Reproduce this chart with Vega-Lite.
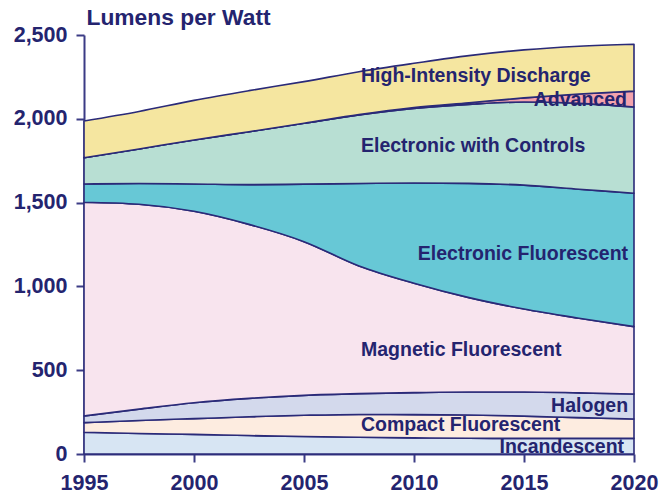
{
  "$schema": "https://vega.github.io/schema/vega-lite/v6.json",
  "width": 550,
  "height": 419,
  "autosize": {"type": "none"},
  "padding": {"left": 84, "top": 35, "right": 26, "bottom": 42},
  "background": "white",
  "config": {"view": {"stroke": null}, "font": "Liberation Sans"},
  "datasets": {
    "lighting": [
      {"year": 1995, "type": "Incandescent", "rank": 1, "lpw": 130},
      {"year": 1997.5, "type": "Incandescent", "rank": 1, "lpw": 122},
      {"year": 2000, "type": "Incandescent", "rank": 1, "lpw": 117},
      {"year": 2002.5, "type": "Incandescent", "rank": 1, "lpw": 110},
      {"year": 2005, "type": "Incandescent", "rank": 1, "lpw": 104},
      {"year": 2007.5, "type": "Incandescent", "rank": 1, "lpw": 100},
      {"year": 2010, "type": "Incandescent", "rank": 1, "lpw": 96},
      {"year": 2012.5, "type": "Incandescent", "rank": 1, "lpw": 94},
      {"year": 2015, "type": "Incandescent", "rank": 1, "lpw": 93},
      {"year": 2017.5, "type": "Incandescent", "rank": 1, "lpw": 93},
      {"year": 2020, "type": "Incandescent", "rank": 1, "lpw": 93},
      {"year": 1995, "type": "Compact Fluorescent", "rank": 2, "lpw": 57},
      {"year": 1997.5, "type": "Compact Fluorescent", "rank": 2, "lpw": 78},
      {"year": 2000, "type": "Compact Fluorescent", "rank": 2, "lpw": 94},
      {"year": 2002.5, "type": "Compact Fluorescent", "rank": 2, "lpw": 112},
      {"year": 2005, "type": "Compact Fluorescent", "rank": 2, "lpw": 127},
      {"year": 2007.5, "type": "Compact Fluorescent", "rank": 2, "lpw": 136},
      {"year": 2010, "type": "Compact Fluorescent", "rank": 2, "lpw": 139},
      {"year": 2012.5, "type": "Compact Fluorescent", "rank": 2, "lpw": 139},
      {"year": 2015, "type": "Compact Fluorescent", "rank": 2, "lpw": 133},
      {"year": 2017.5, "type": "Compact Fluorescent", "rank": 2, "lpw": 124},
      {"year": 2020, "type": "Compact Fluorescent", "rank": 2, "lpw": 116},
      {"year": 1995, "type": "Halogen", "rank": 3, "lpw": 40},
      {"year": 1997.5, "type": "Halogen", "rank": 3, "lpw": 68},
      {"year": 2000, "type": "Halogen", "rank": 3, "lpw": 95},
      {"year": 2002.5, "type": "Halogen", "rank": 3, "lpw": 110},
      {"year": 2005, "type": "Halogen", "rank": 3, "lpw": 119},
      {"year": 2007.5, "type": "Halogen", "rank": 3, "lpw": 124},
      {"year": 2010, "type": "Halogen", "rank": 3, "lpw": 131},
      {"year": 2012.5, "type": "Halogen", "rank": 3, "lpw": 137},
      {"year": 2015, "type": "Halogen", "rank": 3, "lpw": 144},
      {"year": 2017.5, "type": "Halogen", "rank": 3, "lpw": 148},
      {"year": 2020, "type": "Halogen", "rank": 3, "lpw": 149},
      {"year": 1995, "type": "Magnetic Fluorescent", "rank": 4, "lpw": 1275},
      {"year": 1997.5, "type": "Magnetic Fluorescent", "rank": 4, "lpw": 1222},
      {"year": 2000, "type": "Magnetic Fluorescent", "rank": 4, "lpw": 1142},
      {"year": 2002.5, "type": "Magnetic Fluorescent", "rank": 4, "lpw": 1038},
      {"year": 2005, "type": "Magnetic Fluorescent", "rank": 4, "lpw": 917},
      {"year": 2007.5, "type": "Magnetic Fluorescent", "rank": 4, "lpw": 762},
      {"year": 2010, "type": "Magnetic Fluorescent", "rank": 4, "lpw": 653},
      {"year": 2012.5, "type": "Magnetic Fluorescent", "rank": 4, "lpw": 563},
      {"year": 2015, "type": "Magnetic Fluorescent", "rank": 4, "lpw": 495},
      {"year": 2017.5, "type": "Magnetic Fluorescent", "rank": 4, "lpw": 445},
      {"year": 2020, "type": "Magnetic Fluorescent", "rank": 4, "lpw": 402},
      {"year": 1995, "type": "Electronic Fluorescent", "rank": 5, "lpw": 109},
      {"year": 1997.5, "type": "Electronic Fluorescent", "rank": 5, "lpw": 124},
      {"year": 2000, "type": "Electronic Fluorescent", "rank": 5, "lpw": 163},
      {"year": 2002.5, "type": "Electronic Fluorescent", "rank": 5, "lpw": 237},
      {"year": 2005, "type": "Electronic Fluorescent", "rank": 5, "lpw": 343},
      {"year": 2007.5, "type": "Electronic Fluorescent", "rank": 5, "lpw": 492},
      {"year": 2010, "type": "Electronic Fluorescent", "rank": 5, "lpw": 598},
      {"year": 2012.5, "type": "Electronic Fluorescent", "rank": 5, "lpw": 682},
      {"year": 2015, "type": "Electronic Fluorescent", "rank": 5, "lpw": 739},
      {"year": 2017.5, "type": "Electronic Fluorescent", "rank": 5, "lpw": 770},
      {"year": 2020, "type": "Electronic Fluorescent", "rank": 5, "lpw": 796},
      {"year": 1995, "type": "Electronic with Controls", "rank": 6, "lpw": 157},
      {"year": 1997.5, "type": "Electronic with Controls", "rank": 6, "lpw": 206},
      {"year": 2000, "type": "Electronic with Controls", "rank": 6, "lpw": 263},
      {"year": 2002.5, "type": "Electronic with Controls", "rank": 6, "lpw": 316},
      {"year": 2005, "type": "Electronic with Controls", "rank": 6, "lpw": 363},
      {"year": 2007.5, "type": "Electronic with Controls", "rank": 6, "lpw": 409},
      {"year": 2010, "type": "Electronic with Controls", "rank": 6, "lpw": 445},
      {"year": 2012.5, "type": "Electronic with Controls", "rank": 6, "lpw": 471},
      {"year": 2015, "type": "Electronic with Controls", "rank": 6, "lpw": 496},
      {"year": 2017.5, "type": "Electronic with Controls", "rank": 6, "lpw": 512},
      {"year": 2020, "type": "Electronic with Controls", "rank": 6, "lpw": 514},
      {"year": 1995, "type": "Advanced", "rank": 7, "lpw": 0},
      {"year": 1997.5, "type": "Advanced", "rank": 7, "lpw": 0},
      {"year": 2000, "type": "Advanced", "rank": 7, "lpw": 0},
      {"year": 2002.5, "type": "Advanced", "rank": 7, "lpw": 0},
      {"year": 2005, "type": "Advanced", "rank": 7, "lpw": 0},
      {"year": 2007.5, "type": "Advanced", "rank": 7, "lpw": 2},
      {"year": 2010, "type": "Advanced", "rank": 7, "lpw": 5},
      {"year": 2012.5, "type": "Advanced", "rank": 7, "lpw": 10},
      {"year": 2015, "type": "Advanced", "rank": 7, "lpw": 25},
      {"year": 2017.5, "type": "Advanced", "rank": 7, "lpw": 56},
      {"year": 2020, "type": "Advanced", "rank": 7, "lpw": 95},
      {"year": 1995, "type": "High-Intensity Discharge", "rank": 8, "lpw": 219},
      {"year": 1997.5, "type": "High-Intensity Discharge", "rank": 8, "lpw": 224},
      {"year": 2000, "type": "High-Intensity Discharge", "rank": 8, "lpw": 236},
      {"year": 2002.5, "type": "High-Intensity Discharge", "rank": 8, "lpw": 245},
      {"year": 2005, "type": "High-Intensity Discharge", "rank": 8, "lpw": 249},
      {"year": 2007.5, "type": "High-Intensity Discharge", "rank": 8, "lpw": 256},
      {"year": 2010, "type": "High-Intensity Discharge", "rank": 8, "lpw": 264},
      {"year": 2012.5, "type": "High-Intensity Discharge", "rank": 8, "lpw": 281},
      {"year": 2015, "type": "High-Intensity Discharge", "rank": 8, "lpw": 286},
      {"year": 2017.5, "type": "High-Intensity Discharge", "rank": 8, "lpw": 285},
      {"year": 2020, "type": "High-Intensity Discharge", "rank": 8, "lpw": 280}
    ],
    "leftLabels": [
      {"label": "High-Intensity Discharge", "year": 2007.59, "value": 2220},
      {"label": "Electronic with Controls", "year": 2007.59, "value": 1804},
      {"label": "Magnetic Fluorescent", "year": 2007.59, "value": 585},
      {"label": "Compact Fluorescent", "year": 2007.59, "value": 137}
    ],
    "rightLabels": [
      {"label": "Advanced", "year": 2019.68, "value": 2077},
      {"label": "Electronic Fluorescent", "year": 2019.73, "value": 1158},
      {"label": "Halogen", "year": 2019.73, "value": 252},
      {"label": "Incandescent", "year": 2019.55, "value": 8}
    ]
  },
  "layer": [
    {
      "data": {"name": "lighting"},
      "mark": {"type": "area", "interpolate": "monotone", "stroke": "#2a2a78", "strokeWidth": 1.6, "strokeJoin": "round"},
      "encoding": {
        "x": {
          "field": "year", "type": "quantitative",
          "scale": {"domain": [1995, 2020], "nice": false, "zero": false},
          "axis": {
            "values": [1995, 2000, 2005, 2010, 2015, 2020], "format": "d", "grid": false, "title": null,
            "domainColor": "#3b3b85", "domainWidth": 2, "tickColor": "#3b3b85", "tickWidth": 2, "tickSize": 8,
            "labelPadding": 10, "labelFlush": false, "labelOverlap": false,
            "labelFont": "Liberation Sans", "labelFontSize": 21.5, "labelFontWeight": "bold", "labelColor": "#24246f"
          }
        },
        "y": {
          "field": "lpw", "type": "quantitative", "stack": "zero",
          "scale": {"domain": [0, 2500], "nice": false},
          "axis": {
            "values": [0, 500, 1000, 1500, 2000, 2500], "format": ",d", "grid": false,
            "domainColor": "#3b3b85", "domainWidth": 2, "tickColor": "#3b3b85", "tickWidth": 2, "tickSize": 8,
            "labelPadding": 9, "labelFlush": false, "labelOverlap": false,
            "labelFont": "Liberation Sans", "labelFontSize": 21.5, "labelFontWeight": "bold", "labelColor": "#24246f",
            "title": "Lumens per Watt", "titleAngle": 0, "titleX": 2, "titleY": -11, "titleAlign": "left",
            "titleBaseline": "alphabetic", "titleFont": "Liberation Sans", "titleFontSize": 22.8,
            "titleFontWeight": "bold", "titleColor": "#24246f"
          }
        },
        "color": {
          "field": "type", "type": "nominal",
          "scale": {
            "domain": ["Incandescent", "Compact Fluorescent", "Halogen", "Magnetic Fluorescent", "Electronic Fluorescent", "Electronic with Controls", "Advanced", "High-Intensity Discharge"],
            "range": ["#d7e5f3", "#fdece0", "#d3d9ec", "#f8e4ee", "#67c8d6", "#b8dfd3", "#f4a3ad", "#f5e6a0"]
          },
          "legend": null
        },
        "order": {"field": "rank", "type": "quantitative"}
      }
    },
    {
      "data": {"name": "leftLabels"},
      "mark": {"type": "text", "align": "left", "baseline": "alphabetic", "font": "Liberation Sans", "fontSize": 19.5, "fontWeight": "bold", "color": "#24246f"},
      "encoding": {
        "x": {"field": "year", "type": "quantitative"},
        "y": {"field": "value", "type": "quantitative"},
        "text": {"field": "label", "type": "nominal"}
      }
    },
    {
      "data": {"name": "rightLabels"},
      "mark": {"type": "text", "align": "right", "baseline": "alphabetic", "font": "Liberation Sans", "fontSize": 19.5, "fontWeight": "bold", "color": "#24246f"},
      "encoding": {
        "x": {"field": "year", "type": "quantitative"},
        "y": {"field": "value", "type": "quantitative"},
        "text": {"field": "label", "type": "nominal"}
      }
    }
  ]
}
